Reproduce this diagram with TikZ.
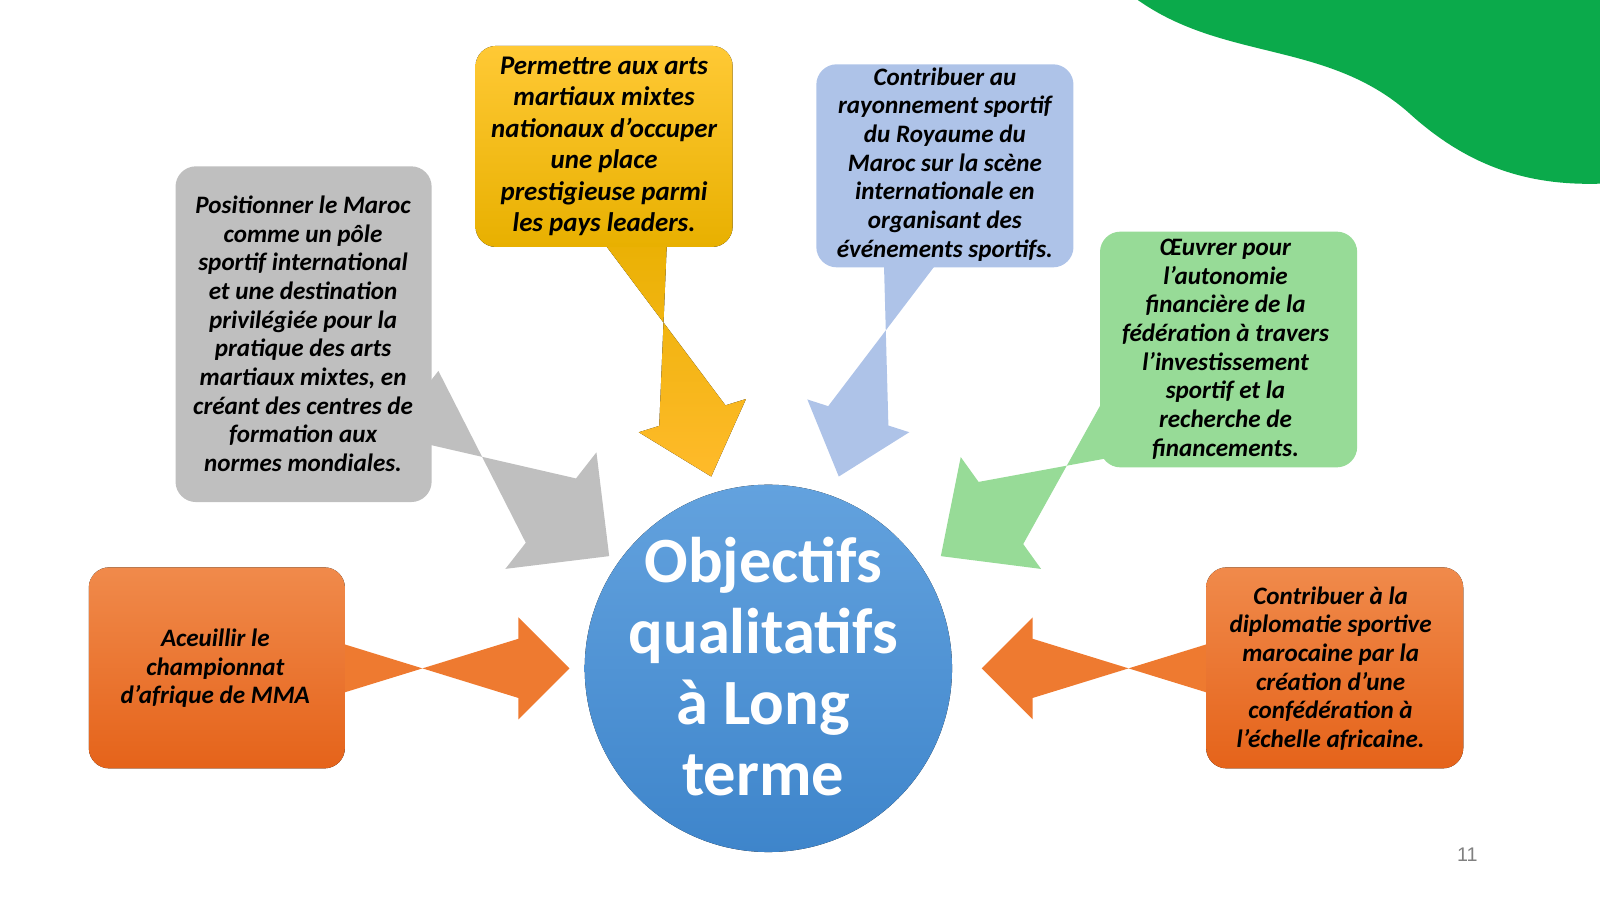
\documentclass[tikz,border=0pt]{standalone}
\usepackage{fontspec}
\setmainfont{Carlito}
\newfontfamily\numfont{Liberation Sans}
\usetikzlibrary{calc}
\definecolor{gblob}{HTML}{0BAA4B}
\definecolor{yel1}{HTML}{FFC935}
\definecolor{yel2}{HTML}{E8B000}
\definecolor{blu}{HTML}{AEC3E8}
\definecolor{gry}{HTML}{BFBFBF}
\definecolor{grn}{HTML}{97DB97}
\definecolor{or1}{HTML}{F08A4B}
\definecolor{or2}{HTML}{E5631A}
\definecolor{orA}{HTML}{EE7A30}
\definecolor{cir1}{HTML}{63A2DE}
\definecolor{cir2}{HTML}{3E85CB}
\newcommand{\blockarrow}[6]{%
  \fill[#6] ($(#1)!#3!90:(#2)$) -- ($(#1)!#3!-90:(#2)$)
    -- ($($(#2)!#5!(#1)$)!#3!90:(#2)$) -- ($($(#2)!#5!(#1)$)!#4!90:(#2)$)
    -- (#2) -- ($($(#2)!#5!(#1)$)!#4!-90:(#2)$) -- ($($(#2)!#5!(#1)$)!#3!-90:(#2)$) -- cycle;}
\tikzset{
  box/.style={rounded corners=0.4cm, align=center, font=\fontsize{14}{16}\selectfont\bfseries\itshape, inner sep=0pt},
}
\begin{document}
\begin{tikzpicture}[x=0.02cm,y=-0.02cm]
\useasboundingbox (0,0) rectangle (1568,882);
\fill[gblob] (1115,0) .. controls (1200,60) and (1300,40) .. (1380,110) .. controls (1440,165) and (1500,182) .. (1568,180) -- (1568,0) -- cycle;
% arrow coordinates
\coordinate (ga) at (405,395); \coordinate (gb) at (597,545);
\coordinate (ya) at (622,225); \coordinate (yb) at (697,467);
\coordinate (ba) at (895,240); \coordinate (bb) at (822,467);
\coordinate (na) at (1110,410); \coordinate (nb) at (922,545);
\coordinate (la) at (320,655); \coordinate (lb) at (558,655);
\coordinate (ra) at (1200,655); \coordinate (rb) at (962,655);
\blockarrow{ga}{gb}{0.8cm}{1.45cm}{1.45cm}{gry}
\blockarrow{ya}{yb}{0.68cm}{1.1cm}{1.25cm}{top color=yel2,bottom color=yel1!80!orange}
\blockarrow{ba}{bb}{0.62cm}{1.05cm}{1.25cm}{blu}
\blockarrow{na}{nb}{0.75cm}{1.35cm}{1.45cm}{grn}
\blockarrow{la}{lb}{0.58cm}{1.0cm}{1.0cm}{orA}
\blockarrow{ra}{rb}{0.58cm}{1.0cm}{1.0cm}{orA}
% boxes
\fill[rounded corners=0.4cm, top color=yel1, bottom color=yel2] (466,45) rectangle (718,242);
\node[box, font=\fontsize{15}{17.6}\selectfont\bfseries\itshape] (y) at (592,143.5) {Permettre aux arts\\martiaux mixtes\\nationaux d'occuper\\une place\\prestigieuse parmi\\les pays leaders.};
\fill[blu, rounded corners=0.4cm] (800,63) rectangle (1052,262);
\node[box] (b) at (926,161) {Contribuer au\\rayonnement sportif\\du Royaume du\\Maroc sur la scène\\internationale en\\organisant des\\événements sportifs.};
\fill[gry, rounded corners=0.4cm] (172,163) rectangle (423,492);
\node[box] (g) at (297,327) {Positionner le Maroc\\comme un pôle\\sportif international\\et une destination\\privilégiée pour la\\pratique des arts\\martiaux mixtes, en\\créant des centres de\\formation aux\\normes mondiales.};
\fill[grn, rounded corners=0.4cm] (1078,227) rectangle (1330,458);
\node[box] (n) at (1201,342) {Œuvrer pour\\l'autonomie\\financière de la\\fédération à travers\\l'investissement\\sportif et la\\recherche de\\financements.};
\fill[rounded corners=0.4cm, top color=or1, bottom color=or2] (87,556) rectangle (338,753);
\node[box] (l) at (211,655) {Aceuillir le\\championnat\\d’afrique de MMA};
\fill[rounded corners=0.4cm, top color=or1, bottom color=or2] (1182,556) rectangle (1434,753);
\node[box] (r) at (1304,655) {Contribuer à la\\diplomatie sportive\\marocaine par la\\création d'une\\confédération à\\l'échelle africaine.};
% circle
\fill[top color=cir1, bottom color=cir2] (753,655) circle (180);
\node[align=center, text=white, font=\fontsize{36}{39.5}\selectfont\bfseries, inner sep=0pt] (c) at (748,653) {Objectifs\\qualitatifs\\à Long\\terme};
\node[text=gray, font=\numfont\fontsize{11}{12}\selectfont] (p) at (1438,838) {11};
\end{tikzpicture}
\end{document}
